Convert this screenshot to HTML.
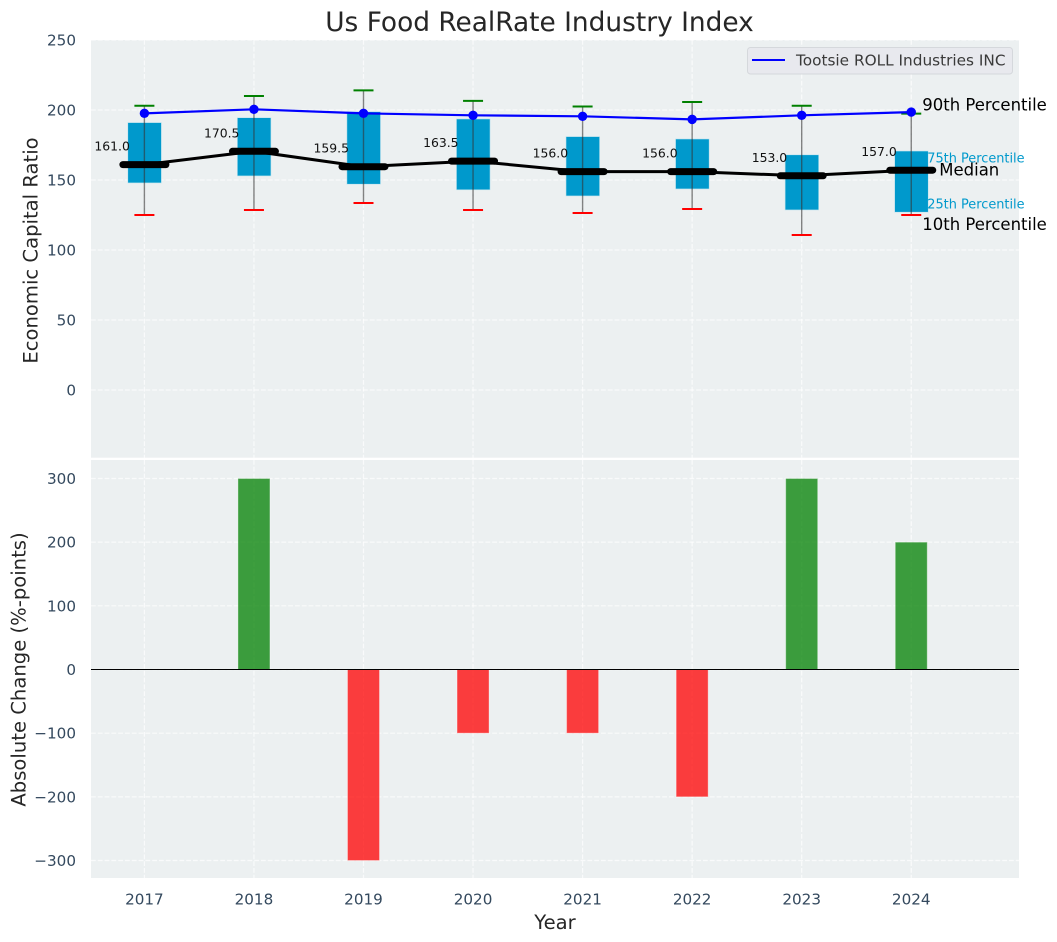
<!DOCTYPE html>
<html>
<head>
<meta charset="utf-8">
<title>Us Food RealRate Industry Index</title>
<style>
html,body{margin:0;padding:0;background:#fff;width:1057px;height:942px;overflow:hidden}
svg{display:block;font-family:"DejaVu Sans","Liberation Sans",sans-serif}
</style>
</head>
<body>
<svg id="chart" xmlns="http://www.w3.org/2000/svg" width="1057" height="942" viewBox="0 0 1057 942">
  <text x="539.5" y="31" font-size="26.4" fill="#262626" text-anchor="middle">Us Food RealRate Industry Index</text>
  <rect x="91" y="40" width="928" height="417.7" fill="#ecf0f1"/>
  <rect x="91" y="460" width="928" height="418" fill="#ecf0f1"/>
  <g id="top-grid"></g>
  <g id="bottom-grid"></g>
  <g id="boxes"></g>
  <g id="lines"></g>
  <g id="bars"></g>
  <g id="labels"></g>
  <g id="ticks"></g>
  <text transform="translate(37.5,250.5) rotate(-90)" font-size="19.6" fill="#262626" text-anchor="middle">Economic Capital Ratio</text>
  <text transform="translate(25.5,669.5) rotate(-90)" font-size="19.6" fill="#262626" text-anchor="middle">Absolute Change (%-points)</text>
  <text x="555" y="929" font-size="19.6" fill="#262626" text-anchor="middle">Year</text>
  <g>
    <rect x="747.5" y="47.5" width="265" height="26.5" rx="3" fill="#e8e9ee" stroke="#d5d8dc" stroke-width="1"/>
    <line x1="752" x2="785" y1="60" y2="60" stroke="#0000ff" stroke-width="2"/>
    <text x="796" y="65.5" font-size="15.3" fill="#3a3a3a">Tootsie ROLL Industries INC</text>
  </g>
</svg>
<script>
const years = [2017, 2018, 2019, 2020, 2021, 2022, 2023, 2024];
const p90 = [203, 210, 214, 206.5, 202.5, 205.7, 203, 197.4];
const p75 = [191, 194.5, 198.8, 193.6, 181, 179.3, 168, 170.7];
const medians = [161, 170.5, 159.5, 163.5, 156, 156, 153, 157];
const p25 = [147.9, 152.9, 147, 143, 138.6, 143.6, 128.6, 127];
const p10 = [125, 128.6, 133.6, 128.6, 126.4, 129.3, 110.7, 125];
const company = [197.6, 200.5, 197.6, 196.2, 195.5, 193.3, 196.2, 198.5];
const changes = [0, 300, -300, -100, -100, -200, 300, 200];
const topTicks = [0, 50, 100, 150, 200, 250];
const bottomTicks = [-300, -200, -100, 0, 100, 200, 300];

const NS = 'http://www.w3.org/2000/svg';
function xPos(i) { return 144.4 + (i - 0) * 109.55; }
function yTop(v) { return 390 - v * 1.4; }
function yBottom(v) { return 669.5 - v * 0.6367; }
function make(parent, tag, attrs, text) {
  const el = document.createElementNS(NS, tag);
  for (const k in attrs) el.setAttribute(k, attrs[k]);
  if (text !== undefined) el.textContent = text;
  parent.appendChild(el);
  return el;
}
const topGrid = document.getElementById('top-grid');
const bottomGrid = document.getElementById('bottom-grid');
const boxes = document.getElementById('boxes');
const lines = document.getElementById('lines');
const bars = document.getElementById('bars');
const labels = document.getElementById('labels');
const ticks = document.getElementById('ticks');
const gridStyle = { stroke: '#ffffff', 'stroke-width': 1.2, 'stroke-dasharray': '4.8 2', opacity: 0.72 };
const tickColor = '#34495e';

topTicks.forEach(function (t) {
  const g = make(topGrid, 'line', Object.assign({ x1: 91, x2: 1019, y1: yTop(t), y2: yTop(t) }, gridStyle));
  
  
  const l = make(ticks, 'text', { x: 76, y: yTop(t) + 5.5, 'font-size': 15.2, fill: tickColor, 'text-anchor': 'end' }, String(t));
  
  
});
bottomTicks.forEach(function (t) {
  const g = make(bottomGrid, 'line', Object.assign({ x1: 91, x2: 1019, y1: yBottom(t), y2: yBottom(t) }, gridStyle));
  
  
  const l = make(ticks, 'text', { x: 76, y: yBottom(t) + 5.5, 'font-size': 15.2, fill: tickColor, 'text-anchor': 'end' }, String(t).replace('-', '\u2212'));
  
  
});
years.forEach(function (yr, i) {
  const x = xPos(i);
  const g1 = make(topGrid, 'line', Object.assign({ x1: x, x2: x, y1: 40, y2: 457.7 }, gridStyle));
  
  
  const g2 = make(bottomGrid, 'line', Object.assign({ x1: x, x2: x, y1: 460, y2: 878 }, gridStyle));
  
  
  const l = make(ticks, 'text', { x: x, y: 904.5, 'font-size': 15.2, fill: tickColor, 'text-anchor': 'middle' }, String(yr));
  
  

  const box = make(boxes, 'rect', { x: x - 16.6, y: yTop(p75[i]), width: 33.6, height: yTop(p25[i]) - yTop(p75[i]), fill: '#0099cc', stroke: '#bfe3ee', 'stroke-width': 0.6 });
  
  
  const whisker = make(boxes, 'line', { x1: x, x2: x, y1: yTop(p90[i]), y2: yTop(p10[i]), stroke: '#333333', 'stroke-opacity': 0.6, 'stroke-width': 1.4 });
  
  
  const capHigh = make(boxes, 'line', { x1: x - 10, x2: x + 10, y1: yTop(p90[i]), y2: yTop(p90[i]), stroke: '#008000', 'stroke-width': 2 });
  
  
  const capLow = make(boxes, 'line', { x1: x - 10, x2: x + 10, y1: yTop(p10[i]), y2: yTop(p10[i]), stroke: '#ff0000', 'stroke-width': 2 });
  
  

  const bar = make(bars, 'rect', { x: x - 16, y: Math.min(yBottom(changes[i]), yBottom(0)), width: 32, height: Math.abs(yBottom(changes[i]) - yBottom(0)), fill: changes[i] >= 0 ? '#008000' : '#ff0000', 'fill-opacity': 0.75, stroke: '#ffffff', 'stroke-opacity': 0.35, 'stroke-width': 1 });
  
  

  const v = make(labels, 'text', { x: x - 14.5, y: yTop(medians[i]) - 14, 'font-size': 12.4, fill: '#111111', 'text-anchor': 'end' }, medians[i].toFixed(1));
  
  
});

const medianPoints = medians.map(function (v, i) { return xPos(i) + ',' + yTop(v); }).join(' ');
const medianLine = make(lines, 'polyline', { points: medianPoints, fill: 'none', stroke: '#000000', 'stroke-width': 3 });


medians.forEach(function (v, i) {
  const m = make(lines, 'line', { x1: xPos(i) - 21.5, x2: xPos(i) + 21.5, y1: yTop(v), y2: yTop(v), stroke: '#000000', 'stroke-width': 7, 'stroke-linecap': 'round' });
  
  
});
const companyPoints = company.map(function (v, i) { return xPos(i) + ',' + yTop(v); }).join(' ');
const companyLine = make(lines, 'polyline', { points: companyPoints, fill: 'none', stroke: '#0000ff', 'stroke-width': 2.2 });


company.forEach(function (v, i) {
  const d = make(lines, 'circle', { cx: xPos(i), cy: yTop(v), r: 4.7, fill: '#0000ff' });
  
  
});

const zero = make(bars, 'line', { x1: 91, x2: 1019, y1: yBottom(0), y2: yBottom(0), stroke: '#000000', 'stroke-width': 1.1 });



const last = years.length - 1;
const lastX = xPos(last);
const t90 = make(labels, 'text', { x: lastX + 11, y: yTop(p90[last]) - 3, 'font-size': 16.5, fill: '#000000' }, '90th Percentile');


const t10 = make(labels, 'text', { x: lastX + 11, y: yTop(p10[last]) + 15, 'font-size': 16.5, fill: '#000000' }, '10th Percentile');


const tMed = make(labels, 'text', { x: lastX + 28, y: yTop(medians[last]) + 5.5, 'font-size': 16.5, fill: '#000000' }, 'Median');


const t75 = make(labels, 'text', { x: lastX + 16, y: yTop(p75[last]) + 11.5, 'font-size': 12.9, fill: '#0099cc' }, '75th Percentile');


const t25 = make(labels, 'text', { x: lastX + 16, y: yTop(p25[last]) - 3.5, 'font-size': 12.9, fill: '#0099cc' }, '25th Percentile');


</script>
</body>
</html>
